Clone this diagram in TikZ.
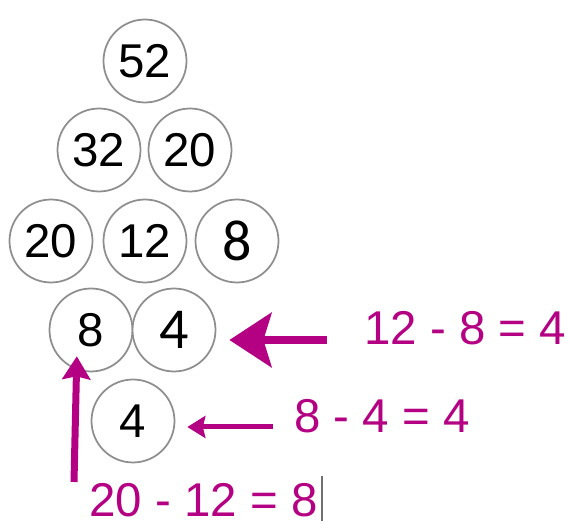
\documentclass[tikz,border=0pt]{standalone}
\usepackage{fontspec}
\setmainfont{Liberation Sans}
\newfontfamily\calibfont{Carlito}
\usepackage{tikz}
\usetikzlibrary{arrows.meta,positioning}
\definecolor{ringgray}{HTML}{8E8E8E}
\definecolor{plum}{RGB}{180,0,130}
\definecolor{caret}{HTML}{707070}

\begin{document}
\begin{tikzpicture}[x=0.02cm,y=-0.02cm,
  ball/.style={circle,draw=ringgray,line width=0.035cm,fill=white,minimum size=1.66cm,inner sep=0pt,
               font=\fontsize{27}{30}\selectfont},
  bigball/.style={ball,font=\calibfont\fontsize{33}{36}\selectfont},
  eqn/.style={text=plum,anchor=base west,inner sep=0pt,font=\fontsize{27}{30}\selectfont},
  bigarr/.style={plum,line width=0.17cm,-{Stealth[length=0.84cm,width=1.08cm,inset=0.16cm]}},
  midarr/.style={plum,line width=0.14cm,-{Stealth[length=0.46cm,width=0.56cm,inset=0.06cm]}},
  smallarr/.style={plum,line width=0.1cm,-{Stealth[length=0.36cm,width=0.44cm,inset=0.05cm]}}]
  \useasboundingbox (0,0) rectangle (569,526);
  % ---- pyramid of numbers
  \node[ball]    (top) at (145,61)  {52};
  \node[ball]    (r2a) at (99,150)  {32};
  \node[ball]    (r2b) at (190,150) {20};
  \node[ball]    (r3a) at (51,241)  {20};
  \node[ball]    (r3b) at (145,241) {12};
  \node[bigball] (r3c) at (237,241) {8};
  \node[ball]    (r4a) at (91,330)  {8};
  \node[bigball] (r4b) at (174,330) {4};
  \node[ball]    (r5)  at (133,421) {4};
  % ---- working out
  \node[eqn] (eq1) at (364,345) {12 - 8 = 4};
  \node[eqn] (eq2) at (294,433) {8 - 4 = 4};
  \node[eqn] (eq3) at (89,517)  {20 - 12 = 8};
  % ---- arrows
  \coordinate (t1) at (327,340);
  \coordinate (t2) at (273,427);
  \coordinate (t3) at (74,482);
  \draw[bigarr,shorten >=0.26cm] (t1) -- (t1 -| r4b.east);
  \draw[smallarr,shorten >=0.24cm] (t2) -- (t2 -| r5.east);
  \draw[midarr,shorten >=-0.27cm] (t3) -- (r4a.-110);
  % ---- text cursor
  \draw[caret,line width=0.04cm] (322,476) -- (322,521);
\end{tikzpicture}
\end{document}
